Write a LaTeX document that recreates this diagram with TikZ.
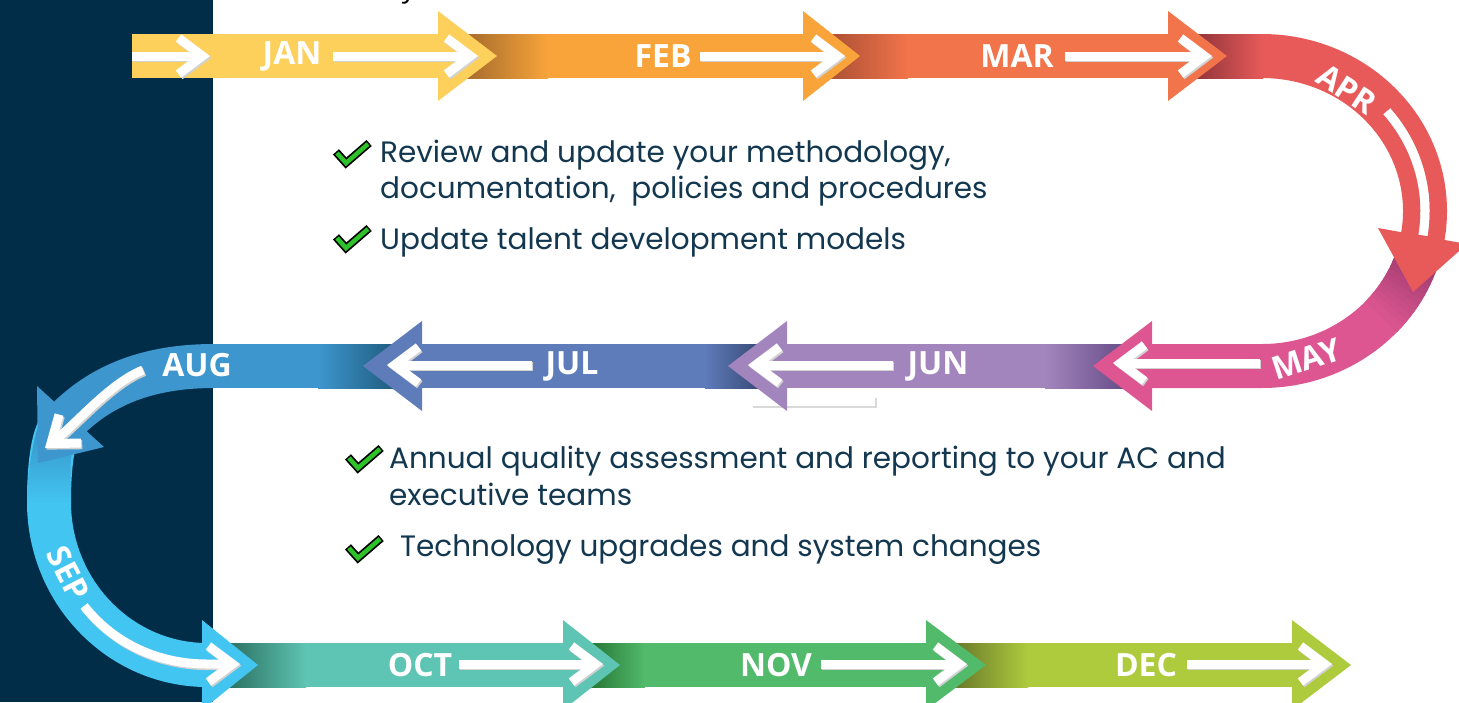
\documentclass[tikz,border=0pt]{standalone}
\usepackage{fontspec}
\setmainfont{Open Sans}
\newfontfamily\itemfont{Poppins}
\usetikzlibrary{arrows.meta,calc}

\definecolor{navy}{HTML}{022D48}
\definecolor{txtnavy}{HTML}{12374F}
\definecolor{chkgreen}{HTML}{2DC22A}
\definecolor{jancol}{HTML}{FDD05B}
\definecolor{febcol}{HTML}{F8A43B}
\definecolor{febdk}{HTML}{A0682A}
\definecolor{marcol}{HTML}{F2744A}
\definecolor{mardk}{HTML}{A84E34}
\definecolor{aprcol}{HTML}{E85A5A}
\definecolor{aprdk}{HTML}{8A3236}
\definecolor{maycol}{HTML}{DD5692}
\definecolor{maydk}{HTML}{96396A}
\definecolor{juncol}{HTML}{A385BD}
\definecolor{jundk}{HTML}{5F4680}
\definecolor{julcol}{HTML}{5E7BBA}
\definecolor{juldk}{HTML}{34466F}
\definecolor{augcol}{HTML}{3D96CE}
\definecolor{augdk}{HTML}{1D5878}
\definecolor{sepcol}{HTML}{43C5F1}
\definecolor{sepdk}{HTML}{3288BE}
\definecolor{octcol}{HTML}{5EC4B3}
\definecolor{octdk}{HTML}{2A6E5E}
\definecolor{novcol}{HTML}{52BA6B}
\definecolor{novdk}{HTML}{22702F}
\definecolor{deccol}{HTML}{AECB3E}
\definecolor{decdk}{HTML}{657428}

\newcommand\wharr[2][]{\draw[wshade,#1] #2; \draw[warr,#1] #2;}

\begin{document}
\begin{tikzpicture}[x=1pt, y=-1pt,
    band/.style={line width=44pt},
    warr/.style={white, line width=9pt, -{Straight Barb[length=24pt, width=36pt]}},
    wshade/.style={black!18, line width=9pt, shift={(1.3,1.6)}, -{Straight Barb[length=24pt, width=36pt]}},
    mon/.style={text=white, inner sep=0pt, font=\fontsize{32}{32}\selectfont\bfseries},
    item/.style={anchor=base west, inner sep=0pt, text=txtnavy, font=\itemfont\fontsize{29.5}{34}\selectfont},
    chk/.pic={
      \draw[black, line width=8pt, shorten <=-1.5pt, shorten >=-1.5pt] (0,0) -- (9,10) -- (31,-9);
      \draw[chkgreen, line width=4.5pt] (0,0) -- (9,10) -- (31,-9);
    }]
    \useasboundingbox (0,0) rectangle (1459,702);
    \clip (0,0) rectangle (1459,702);
    \fill[navy] (0,0) rectangle (213,702);
    \coordinate (rc) at (1262,211);

    \node[text=black, anchor=base, font=\fontsize{28}{28}\selectfont] (ttl) at (409,-3) {y};

    \fill[jancol] (132,34) rectangle (440,78);
    \shade[left color=febdk, right color=febcol] (460,34) rectangle (548,78);
    \fill[febcol] (547,34) rectangle (805,78);
    \shade[left color=mardk, right color=marcol] (825,34) rectangle (908,78);
    \fill[marcol] (907,34) rectangle (1170,78);
    \shade[left color=aprdk, right color=aprcol] (1190,34) rectangle (1263,78);
    \draw[aprcol, band] (1262,56) arc[start angle=-90, end angle=11, x radius=163, y radius=155];

    \draw[maycol, band] ($(rc)+(14:163 and 155)$) arc[start angle=14, end angle=90, x radius=163, y radius=155] -- (1150,366);
    \foreach \a in {14,16,...,40}{
      \pgfmathsetmacro\mx{100-100*(\a-14)/28}
      \draw[maydk!\mx!maycol, band] ($(rc)+(\a:163 and 155)$) arc[start angle=\a, delta angle=3, x radius=163, y radius=155];
    }

    \shade[left color=juncol, right color=jundk] (1045,344) rectangle (1135,388);
    \fill[juncol] (785,344) rectangle (1046,388);
    \shade[left color=julcol, right color=juldk] (705,344) rectangle (765,388);
    \fill[julcol] (420,344) rectangle (706,388);
    \shade[left color=augcol, right color=augdk] (318,344) rectangle (400,388);
    \fill[augcol] (207,344) rectangle (319,388);
    \draw[augcol, band] (214,366) .. controls (150,366) and (100,384) .. (62,425);

    \draw[sepcol, band] (62,425) .. controls (52,436) and (49,470) .. (49,502) .. controls (49,592) and (120,665) .. (207,665);
    \shade[top color=sepdk, bottom color=sepcol] (46,410) .. controls (36,421) and (27,470) .. (27,503) -- (71,503) .. controls (71,470) and (68,451) .. (78,440) -- cycle;

    \shade[left color=octdk, right color=octcol] (225,643) rectangle (306,687);
    \fill[octcol] (305,643) rectangle (565,687);
    \shade[left color=novdk, right color=novcol] (585,643) rectangle (645,687);
    \fill[novcol] (644,643) rectangle (928,687);
    \shade[left color=decdk, right color=deccol] (950,643) rectangle (1028,687);
    \fill[deccol] (1027,643) rectangle (1294,687);

    \draw[black!15, line width=1.5pt] (753,407) -- (876,407) -- (876,398);

    \fill[jancol] (438,11) -- (497,56) -- (438,101) -- cycle;
    \fill[febcol] (803,11) -- (860,56) -- (803,101) -- cycle;
    \fill[marcol] (1168,11) -- (1227,56) -- (1168,101) -- cycle;
    \fill[aprcol] (1378,228) -- (1413,292) -- (1467,244) -- cycle;
    \fill[maycol] (1152,321) -- (1093,366) -- (1152,411) -- cycle;
    \fill[juncol] (787,321) -- (728,366) -- (787,411) -- cycle;
    \fill[julcol] (422,321) -- (363,366) -- (422,411) -- cycle;
    \fill[augcol] (37,386) -- (38,463) -- (104,447) -- cycle;
    \fill[sepcol] (202,620) -- (258,665) -- (202,710) -- cycle;
    \fill[octcol] (563,620) -- (620,665) -- (563,710) -- cycle;
    \fill[novcol] (926,620) -- (986,665) -- (926,710) -- cycle;
    \fill[deccol] (1292,620) -- (1351,665) -- (1292,710) -- cycle;

    \wharr{(132,56) -- (210,56)}
    \wharr{(333,56) -- (478,56)}
    \wharr{(700,56) -- (845,56)}
    \wharr{(1065,56) -- (1212,56)}
    \wharr[-]{($(rc)+(-40:163 and 155)$) arc[start angle=-40, end angle=9, x radius=163, y radius=155]}
    \wharr{(1260,363) -- (1113,363)}
    \wharr{(893,365) -- (748,365)}
    \wharr{(532,365) -- (387,365)}
    \wharr{(143,370) .. controls (110,383) and (75,425) .. (45,448)}
    \wharr{(84,606) .. controls (115,645) and (160,664) .. (207,664) -- (240,664)}
    \wharr{(459,664) -- (603,664)}
    \wharr{(821,664) -- (967,664)}
    \wharr{(1187,664) -- (1332,664)}

    \node[mon] (jan) at (292,56) {JAN};
    \node[mon] (feb) at (663,56) {FEB};
    \node[mon] (mar) at (1017,56) {MAR};
    \node[mon, rotate=-33] (apr) at (1347,89) {APR};
    \node[mon, rotate=18] (may) at (1306,359) {MAY};
    \node[mon] (jun) at (938,366) {JUN};
    \node[mon] (jul) at (572,366) {JUL};
    \node[mon] (aug) at (197,365) {AUG};
    \node[mon, rotate=-63] (sep) at (68,573) {SEP};
    \node[mon] (oct) at (420,665) {OCT};
    \node[mon] (nov) at (776,665) {NOV};
    \node[mon] (dec) at (1146,665) {DEC};

    \pic at (337,153) {chk};
    \pic at (337,238) {chk};
    \pic at (349,458) {chk};
    \pic at (349,548) {chk};
    \node[item] (it1) at (380,162) {Review and update your methodology,};
    \node[item] (it1b) at (380,198) {documentation,~ policies and procedures};
    \node[item] (it2) at (380,249) {Update talent development models};
    \node[item] (it3) at (389,468) {Annual quality assessment and reporting to your AC and};
    \node[item] (it3b) at (389,505) {executive teams};
    \node[item] (it4) at (400,556) {Technology upgrades and system changes};
\end{tikzpicture}
\end{document}
